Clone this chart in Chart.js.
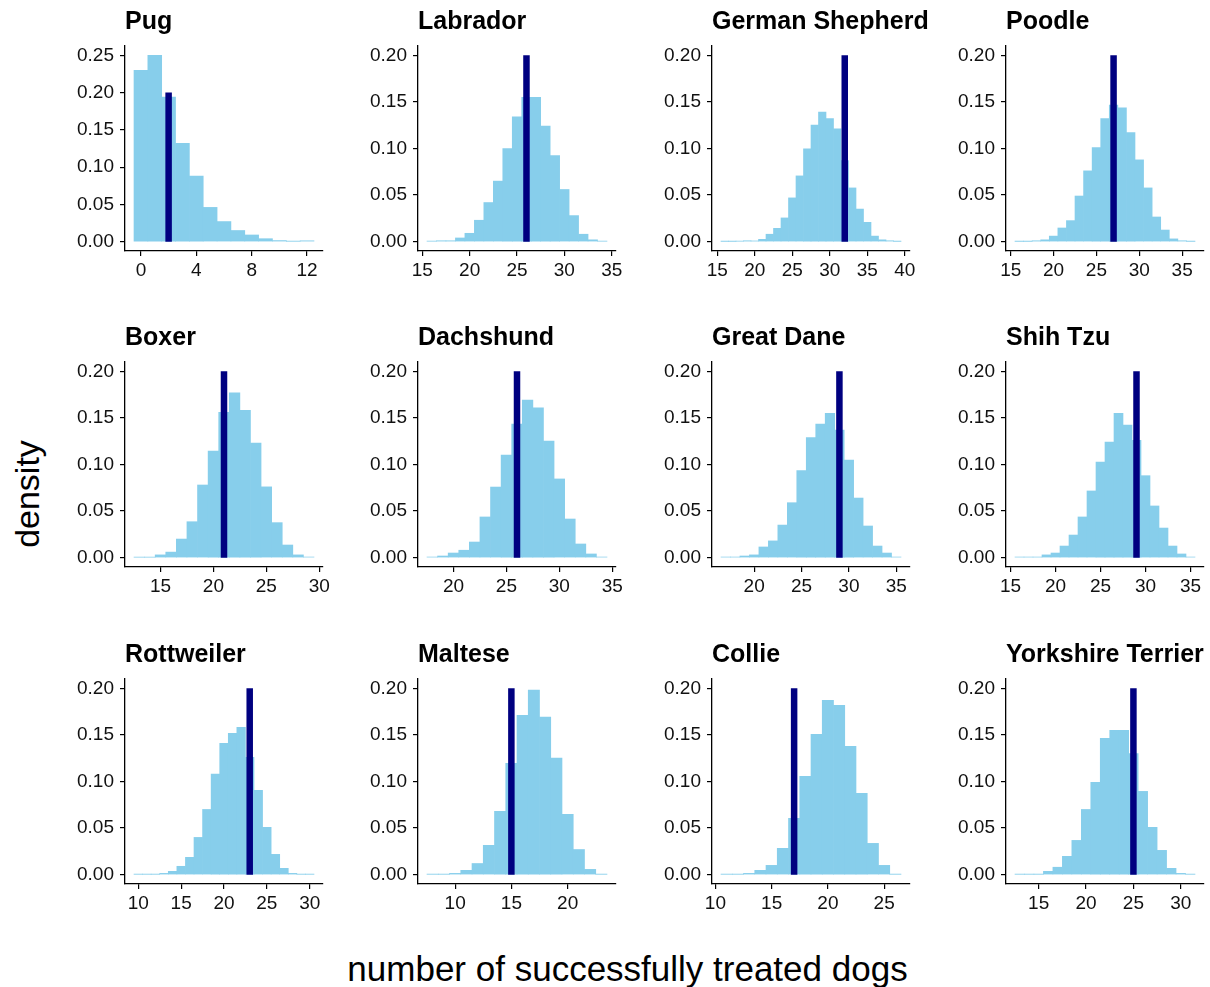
<!DOCTYPE html>
<html>
<head>
<meta charset="utf-8">
<script src="https://cdn.jsdelivr.net/npm/chart.js@4.4.1/dist/chart.umd.min.js"></script>
<style>
  html, body { margin: 0; padding: 0; background: #fff; overflow: hidden; }
  #page { position: relative; width: 1210px; height: 987px; font-family: "Liberation Sans", Arial, Helvetica, sans-serif; }
  #page canvas { position: absolute; }
  .axis-title { position: absolute; color: #000; font-size: 35px; white-space: nowrap; line-height: 1; }
  #y-title { left: 27px; top: 494px; transform: translate(-50%, -50%) rotate(-90deg); font-size: 34px; }
  #x-title { left: 627.5px; top: 968px; transform: translate(-50%, -50%); }
</style>
</head>
<body>
<div id="page">
  <div class="axis-title" id="y-title">density</div>
  <div class="axis-title" id="x-title">number of successfully treated dogs</div>
</div>
<script>
const breeds = ['Pug', 'Labrador', 'German Shepherd', 'Poodle',
                'Boxer', 'Dachshund', 'Great Dane', 'Shih Tzu',
                'Rottweiler', 'Maltese', 'Collie', 'Yorkshire Terrier'];

// first histogram bin (bins are one dog wide) and the observed count per breed
const firstBin = [0, 16, 16, 16, 13, 18, 17, 16, 10, 8, 11, 13];
const observed = [2, 26, 32, 27, 21, 26, 29, 29, 23, 15, 17, 25];
const lineTop  = 0.2;

// densities, one per bin, starting at firstBin
const pug        = [0.230, 0.250, 0.194, 0.132, 0.088, 0.046, 0.027, 0.015, 0.009, 0.004, 0.0015, 0.0005, 0.0012];
const labrador   = [0.0005, 0.001, 0.001, 0.004, 0.009, 0.023, 0.042, 0.065, 0.100, 0.134, 0.155, 0.155, 0.124, 0.0925, 0.056, 0.028, 0.008, 0.002, 0.0005];
const shepherd   = [0.0003, 0.0003, 0.0005, 0.001, 0.0008, 0.0025, 0.008, 0.0143, 0.0255, 0.047, 0.0706, 0.0997, 0.125, 0.139, 0.132, 0.121, 0.087, 0.0577, 0.035, 0.0208, 0.006, 0.002, 0.001, 0.0003];
const poodle     = [0.0003, 0.0003, 0.001, 0.002, 0.006, 0.0147, 0.0226, 0.049, 0.076, 0.101, 0.132, 0.1466, 0.1437, 0.117, 0.0878, 0.0577, 0.0265, 0.0125, 0.003, 0.001, 0.0003];
const boxer      = [0.0005, 0.0005, 0.003, 0.006, 0.020, 0.0386, 0.078, 0.1145, 0.156, 0.177, 0.158, 0.123, 0.076, 0.0376, 0.0136, 0.003, 0.0007];
const dachshund  = [0.0007, 0.0018, 0.005, 0.008, 0.0168, 0.0437, 0.0758, 0.110, 0.1435, 0.169, 0.1607, 0.125, 0.0845, 0.0415, 0.0147, 0.004, 0.0007];
const greatDane  = [0.0007, 0.0007, 0.0018, 0.003, 0.0115, 0.018, 0.035, 0.059, 0.0934, 0.1288, 0.1435, 0.155, 0.137, 0.1048, 0.064, 0.034, 0.0125, 0.005, 0.0007];
const shihTzu    = [0.0007, 0.0007, 0.0007, 0.003, 0.005, 0.0125, 0.0243, 0.0437, 0.0716, 0.1027, 0.124, 0.155, 0.1424, 0.126, 0.088, 0.0555, 0.0318, 0.0125, 0.004, 0.0007];
const rottweiler = [0.0004, 0.0004, 0.0004, 0.0014, 0.0036, 0.009, 0.0186, 0.040, 0.070, 0.108, 0.141, 0.1517, 0.158, 0.126, 0.0905, 0.0508, 0.0218, 0.0068, 0.0014, 0.0004, 0.0004];
const maltese    = [0.0004, 0.0004, 0.0014, 0.0047, 0.012, 0.0315, 0.068, 0.1195, 0.171, 0.198, 0.169, 0.125, 0.0648, 0.027, 0.0057, 0.0004];
const collie     = [0.0004, 0.0004, 0.0014, 0.0047, 0.010, 0.0283, 0.0605, 0.1055, 0.1506, 0.187, 0.1817, 0.1377, 0.0873, 0.0336, 0.010, 0.0004];
const yorkshire  = [0.0004, 0.0004, 0.0004, 0.0036, 0.008, 0.0197, 0.0368, 0.070, 0.099, 0.1463, 0.155, 0.155, 0.130, 0.0894, 0.0508, 0.0261, 0.0068, 0.0014, 0.0004];

const densities = [pug, labrador, shepherd, poodle, boxer, dachshund,
                   greatDane, shihTzu, rottweiler, maltese, collie, yorkshire];

const xTicks = [
  [0, 4, 8, 12], [15, 20, 25, 30, 35], [15, 20, 25, 30, 35, 40], [15, 20, 25, 30, 35],
  [15, 20, 25, 30], [20, 25, 30, 35], [20, 25, 30, 35], [15, 20, 25, 30, 35],
  [10, 15, 20, 25, 30], [10, 15, 20], [10, 15, 20, 25], [15, 20, 25, 30]
];
const yTicksPug = [0, 0.05, 0.10, 0.15, 0.20, 0.25];
const yTicks    = [0, 0.05, 0.10, 0.15, 0.20];

// panel geometry (plot area of each facet)
const colLeft = [125, 418, 712, 1006];
const rowTop  = [46, 362, 679];
const plotW = 198, plotH = 205;
const padL = 62, padT = 45, padR = 24, padB = 38;

Chart.defaults.font.family = '"Liberation Sans", Arial, Helvetica, sans-serif';
Chart.defaults.font.size = 19;
Chart.defaults.color = '#111';

const panelTitle = {
  id: 'panelTitle',
  afterDraw(chart, args, opts) {
    const { ctx, chartArea } = chart;
    ctx.save();
    ctx.font = 'bold 25px "Liberation Sans", Arial, sans-serif';
    ctx.fillStyle = '#000';
    ctx.textBaseline = 'middle';
    ctx.textAlign = 'left';
    ctx.fillText(opts.text, chartArea.left, chartArea.top - 24);
    ctx.restore();
  }
};

function axisStyle() {
  return {
    offset: false,
    grid: { display: true, offset: false, drawOnChartArea: false, drawTicks: true, tickLength: 5, color: '#000', lineWidth: 1.2 },
    border: { display: true, color: '#000', width: 1.3 }
  };
}

function drawPanel(i) {
  const page = document.getElementById('page');
  const canvas = document.createElement('canvas');
  canvas.width = padL + plotW + padR;
  canvas.height = padT + plotH + padB;
  canvas.style.left = (colLeft[i % 4] - padL) + 'px';
  canvas.style.top = (rowTop[Math.floor(i / 4)] - padT) + 'px';
  page.appendChild(canvas);

  const dens = densities[i];
  const bins = dens.map((d, k) => ({ x: firstBin[i] + k, y: d }));
  const lo = firstBin[i] - 0.5, hi = firstBin[i] + dens.length - 0.5;
  const xPad = (hi - lo) * 0.05;
  const yMax = Math.max(lineTop, ...dens);
  const yt = i === 0 ? yTicksPug : yTicks;

  new Chart(canvas, {
    type: 'bar',
    data: {
      datasets: [
        {
          type: 'line',
          data: [{ x: observed[i], y: 0 }, { x: observed[i], y: lineTop }],
          borderColor: '#000080', borderWidth: 6.5, borderCapStyle: 'butt',
          pointRadius: 0, order: 0
        },
        {
          type: 'bar',
          data: bins,
          backgroundColor: '#87CEEB', borderWidth: 0,
          barPercentage: 1, categoryPercentage: 1, order: 1
        }
      ]
    },
    options: {
      responsive: false,
      animation: false,
      events: [],
      layout: { padding: { top: padT, right: padR, bottom: 0, left: 0 } },
      plugins: {
        legend: { display: false },
        tooltip: { enabled: false },
        panelTitle: { text: breeds[i] }
      },
      scales: {
        x: {
          type: 'linear',
          min: lo - xPad, max: hi + xPad,
          afterBuildTicks: s => { s.ticks = xTicks[i].map(v => ({ value: v })); },
          afterFit: s => { s.height = padB; },
          ticks: { padding: 3, autoSkip: false, maxRotation: 0, callback: v => v },
          ...axisStyle()
        },
        y: {
          type: 'linear',
          min: -0.05 * yMax, max: 1.05 * yMax,
          afterBuildTicks: s => { s.ticks = yt.map(v => ({ value: v })); },
          afterFit: s => { s.width = padL; },
          ticks: { padding: 6, autoSkip: false, callback: v => v.toFixed(2) },
          ...axisStyle()
        }
      }
    },
    plugins: [panelTitle]
  });
}

breeds.forEach((b, i) => drawPanel(i));
</script>
</body>
</html>
